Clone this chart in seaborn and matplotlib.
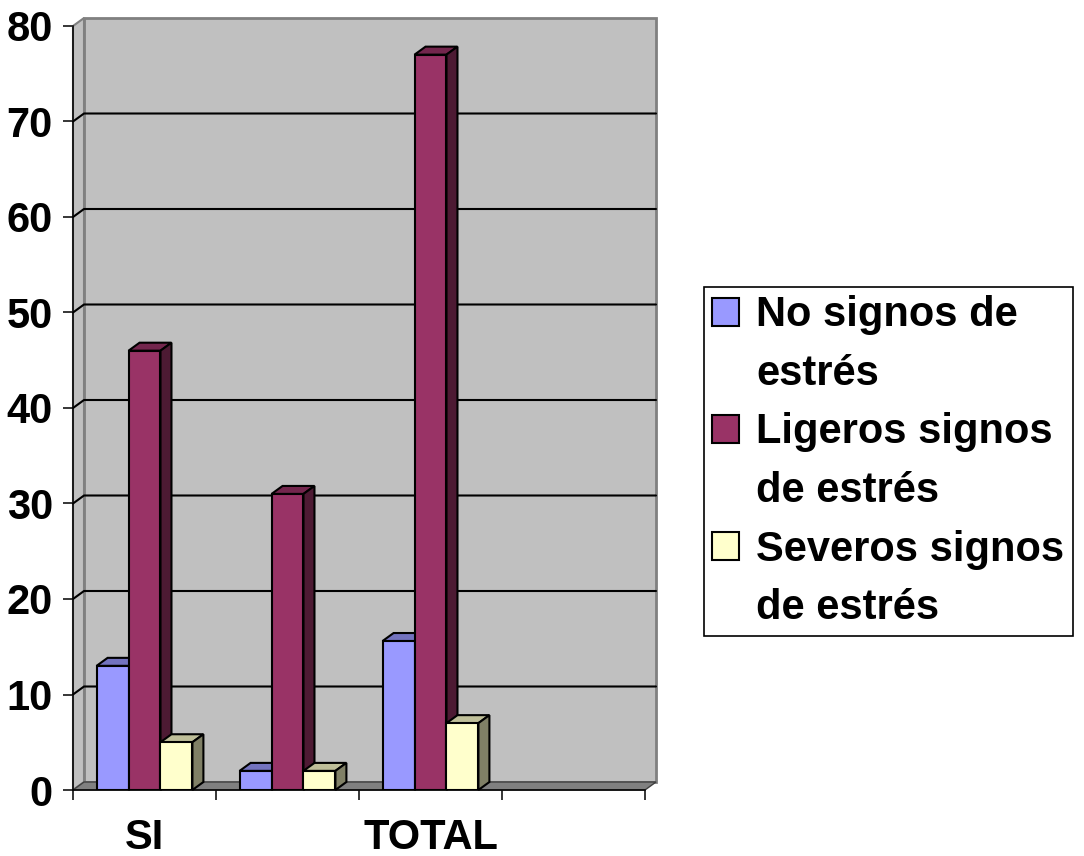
import textwrap
import pandas as pd
import numpy as np
import matplotlib.pyplot as plt
import matplotlib.patches as mpatches
import matplotlib.lines as mlines
import matplotlib.transforms as mtransforms
import seaborn as sns

# values (%)
grupos = ["SI", "NO", "TOTAL"]
niveles = ["No signos de estrés", "Ligeros signos de estrés", "Severos signos de estrés"]
no_signos = [13, 2, 15.6]
ligeros = [46, 31, 77]
severos = [5, 2, 7]
yticks = list(range(0, 81, 10))

colores = ["#9999FF", "#993366", "#FFFFCC"]
colores_top = ["#7373BF", "#73264D", "#BFBF99"]
colores_lado = ["#4D4D80", "#4D1A33", "#808066"]

sns.set_style("ticks")
plt.rcParams['font.family'] = ['Liberation Sans', 'DejaVu Sans']
plt.rcParams['font.weight'] = 'bold'
plt.rcParams['text.color'] = 'black'
plt.rcParams['xtick.color'] = 'black'
plt.rcParams['ytick.color'] = 'black'
plt.rcParams['xtick.labelcolor'] = 'black'
plt.rcParams['ytick.labelcolor'] = 'black'

df = pd.DataFrame({
    'grupo': grupos * 3,
    'nivel': np.repeat(niveles, len(grupos)),
    'valor': no_signos + ligeros + severos,
})

fig = plt.figure(figsize=(10.84, 8.56), dpi=100)
ax = fig.add_axes([73 / 1084, 66 / 856, 572 / 1084, 764 / 856])

sns.barplot(data=df, x='grupo', y='valor', hue='nivel', order=grupos, hue_order=niveles,
            palette=colores, saturation=1, width=0.67, edgecolor='black', linewidth=1.5,
            legend=False, ax=ax)
bars = list(ax.patches)

ax.set_xlim(-0.5, 3.5)
ax.set_ylim(0, 80)
ax.set_facecolor('none')
ax.set_xlabel('')
ax.set_ylabel('')
ax.set_yticks(yticks)
ax.set_xticks([0, 2], [grupos[0], grupos[2]])
ax.set_xticks(np.arange(-0.5, 3.6, 1), minor=True)
ax.tick_params(axis='x', which='major', length=0, pad=20, labelsize=30)
ax.tick_params(axis='x', which='minor', length=7.5, width=1.1, bottom=True)
ax.tick_params(axis='y', length=7.5, width=1.1, pad=7, labelsize=30, left=True)
for s in ['top', 'right']:
    ax.spines[s].set_visible(False)
for s in ['left', 'bottom']:
    ax.spines[s].set_color('black')
    ax.spines[s].set_linewidth(1.1)
    ax.spines[s].set_zorder(4)

# fake 3d: back wall, side wall, floor, gridlines on the wall
ident = mtransforms.IdentityTransform()
dx, dy = 11, 8
xl, yb = ax.transData.transform((-0.5, 0))
xr, yt = ax.transData.transform((3.5, 80))

def poly(pts, fc, ec, lw, z):
    p = mpatches.Polygon(pts, closed=True, facecolor=fc, edgecolor=ec, linewidth=lw,
                         transform=ident, zorder=z, clip_on=False)
    ax.add_artist(p)

poly([(xl + dx, yb + dy), (xr + dx, yb + dy), (xr + dx, yt + dy), (xl + dx, yt + dy)],
     '#C0C0C0', '#808080', 2, 0.5)
poly([(xl, yb), (xl, yt), (xl + dx, yt + dy), (xl + dx, yb + dy)], '#C0C0C0', '#808080', 1.5, 0.6)
poly([(xl, yb), (xr, yb), (xr + dx, yb + dy), (xl + dx, yb + dy)], '#808080', '#404040', 1, 0.7)

for v in yticks[1:-1]:
    yp = ax.transData.transform((0, v))[1]
    ax.add_artist(mlines.Line2D([xl, xl + dx, xr + dx], [yp, yp + dy, yp + dy], color='black',
                                linewidth=1.5, transform=ident, zorder=0.8, clip_on=False))

# top and side faces of each bar
n = len(grupos)
for i, p in enumerate(bars):
    k = i // n
    x0, y0 = ax.transData.transform((p.get_x(), p.get_y()))
    x1, y1 = ax.transData.transform((p.get_x() + p.get_width(), p.get_y() + p.get_height()))
    poly([(x0, y1), (x1, y1), (x1 + dx, y1 + dy), (x0 + dx, y1 + dy)], colores_top[k], 'black', 1.5, 2.5)
    poly([(x1, y0), (x1, y1), (x1 + dx, y1 + dy), (x1 + dx, y0 + dy)], colores_lado[k], 'black', 1.5, 2.5)
    p.set_zorder(3)

# legend, one line per entry so the spacing stays even
handles, labels = [], []
for c, nivel in zip(colores, niveles):
    lineas = textwrap.wrap(nivel, 14)
    for j, linea in enumerate(lineas):
        if j == 0:
            handles.append(mpatches.Patch(facecolor=c, edgecolor='black', linewidth=1.5))
        else:
            handles.append(mpatches.Patch(facecolor='none', edgecolor='none'))
        labels.append(linea)

leg = ax.legend(handles, labels, loc='upper left', bbox_to_anchor=(704 / 1084, 1 - 287 / 856),
                bbox_transform=fig.transFigure, borderaxespad=0, frameon=True, fancybox=False,
                edgecolor='black', fontsize=30, handlelength=0.65, handleheight=0.65,
                handletextpad=0.4, labelspacing=0.445, borderpad=0.2, framealpha=1)
leg.get_frame().set_linewidth(1.2)

fig.savefig('out.png', dpi=100)
